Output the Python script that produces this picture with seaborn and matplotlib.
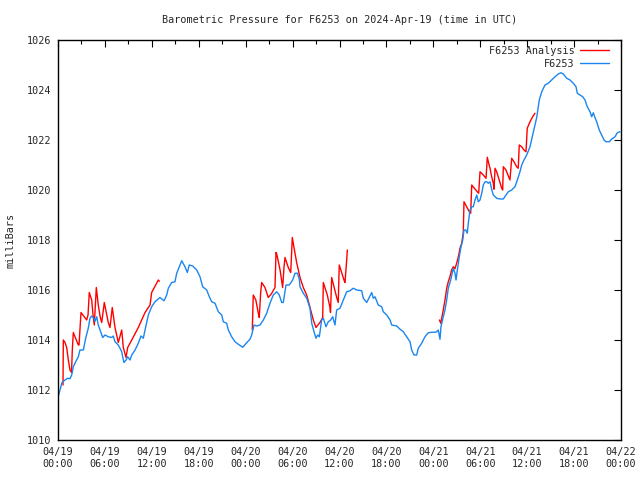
import pandas as pd
import seaborn as sns
import matplotlib.pyplot as plt
import matplotlib.dates as mdates
from matplotlib.lines import Line2D

# station observations (hours after 2024-04-19 00:00 UTC, mbar)
obs_hours = [0.0, 0.26, 0.51, 0.9, 1.24, 1.53, 1.75, 1.96, 2.26, 2.6, 2.81, 3.24, 3.54, 3.87, 4.09,
             4.31, 4.6, 4.73, 4.95, 5.15, 5.46, 5.72, 6.01, 6.43, 6.87, 7.07, 7.29, 7.71, 7.93, 8.15,
             8.27, 8.44, 8.7, 8.91, 9.21, 9.43, 9.85, 10.27, 10.61, 10.91, 11.13, 11.55, 11.98, 12.4,
             13.04, 13.56, 13.9, 14.11, 14.54, 14.96, 15.18, 15.6, 15.82, 16.24, 16.54, 16.79, 17.23,
             17.74, 18.16, 18.5, 19.02, 19.35, 19.66, 20.08, 20.5, 20.94, 21.14, 21.57, 21.78, 22.21,
             22.64, 23.06, 23.62, 24.13, 24.55, 24.77, 25.07, 25.41, 25.83, 26.05, 26.26, 26.69, 27.11,
             27.53, 27.97, 28.3, 28.61, 28.81, 29.16, 29.58, 30.01, 30.31, 30.63, 30.86, 30.95, 31.37,
             31.81, 32.23, 32.45, 32.74, 33.0, 33.21, 33.42, 33.72, 33.93, 34.27, 34.57, 34.87, 35.13,
             35.42, 35.64, 36.06, 36.49, 36.92, 37.34, 37.76, 38.2, 38.84, 39.04, 39.48, 40.12, 40.32,
             40.54, 40.96, 41.4, 41.6, 42.04, 42.46, 42.68, 43.32, 43.74, 44.16, 44.59, 45.02, 45.23,
             45.53, 45.87, 46.08, 46.51, 46.93, 47.36, 47.79, 48.34, 48.63, 48.85, 48.98, 49.27, 49.49,
             49.71, 49.91, 50.22, 50.55, 50.77, 50.9, 51.07, 51.32, 51.5, 51.76, 51.92, 52.14, 52.34,
             52.47, 52.69, 52.91, 53.11, 53.33, 53.55, 53.75, 53.97, 54.19, 54.39, 54.61, 54.83, 55.03,
             55.25, 55.46, 55.67, 56.1, 56.53, 56.95, 57.29, 57.59, 58.02, 58.44, 58.74, 59.08, 59.3,
             59.59, 59.94, 60.36, 60.78, 61.22, 61.55, 61.86, 62.28, 62.7, 63.14, 63.56, 63.98, 64.33,
             64.62, 65.06, 65.48, 65.9, 66.25, 66.41, 66.76, 67.1, 67.4, 67.69, 68.04, 68.25, 68.46,
             68.67, 68.89, 69.22, 69.53, 69.83, 70.08, 70.51, 70.81, 71.23, 71.53, 71.87]
obs_mb = [1011.7, 1012.0, 1012.3, 1012.4, 1012.47, 1012.45, 1012.6, 1012.93, 1013.13, 1013.33, 1013.6,
          1013.6, 1014.07, 1014.47, 1014.87, 1014.96, 1014.87, 1014.75, 1014.93, 1014.6, 1014.33, 1014.1,
          1014.2, 1014.13, 1014.1, 1014.16, 1013.93, 1013.8, 1013.67, 1013.53, 1013.33, 1013.1, 1013.2,
          1013.33, 1013.2, 1013.4, 1013.6, 1013.87, 1014.16, 1014.07, 1014.4, 1015.0, 1015.33, 1015.53,
          1015.7, 1015.57, 1015.8, 1016.07, 1016.3, 1016.33, 1016.67, 1017.0, 1017.17, 1016.93, 1016.7,
          1017.0, 1016.96, 1016.8, 1016.53, 1016.13, 1016.0, 1015.73, 1015.53, 1015.47, 1015.13, 1015.0,
          1014.73, 1014.67, 1014.4, 1014.13, 1013.93, 1013.83, 1013.71, 1013.89, 1014.03, 1014.2, 1014.6,
          1014.56, 1014.6, 1014.7, 1014.8, 1015.07, 1015.47, 1015.8, 1015.93, 1015.8, 1015.5, 1015.5,
          1016.2, 1016.2, 1016.4, 1016.67, 1016.67, 1016.43, 1016.13, 1015.87, 1015.67, 1015.27, 1014.67,
          1014.33, 1014.07, 1014.2, 1014.13, 1014.8, 1014.87, 1014.53, 1014.73, 1014.8, 1014.93, 1014.6,
          1015.2, 1015.27, 1015.6, 1015.93, 1015.97, 1016.07, 1016.0, 1015.97, 1015.67, 1015.5, 1015.9,
          1015.67, 1015.73, 1015.4, 1015.33, 1015.13, 1015.0, 1014.8, 1014.6, 1014.56, 1014.43, 1014.33,
          1014.13, 1013.93, 1013.6, 1013.4, 1013.4, 1013.67, 1013.87, 1014.13, 1014.29, 1014.31, 1014.31,
          1014.4, 1014.03, 1014.53, 1014.93, 1015.2, 1015.6, 1016.07, 1016.4, 1016.87, 1016.67, 1016.4,
          1016.8, 1017.33, 1017.67, 1018.0, 1018.4, 1018.4, 1018.27, 1018.67, 1019.2, 1019.33, 1019.33,
          1019.6, 1019.8, 1019.53, 1019.6, 1019.87, 1020.2, 1020.33, 1020.33, 1020.27, 1020.33, 1020.03,
          1019.8, 1019.67, 1019.64, 1019.64, 1019.8, 1019.93, 1020.0, 1020.13, 1020.4, 1020.73, 1021.0,
          1021.2, 1021.4, 1021.73, 1022.3, 1022.9, 1023.6, 1023.93, 1024.2, 1024.27, 1024.4, 1024.53,
          1024.64, 1024.69, 1024.64, 1024.47, 1024.4, 1024.27, 1024.13, 1023.87, 1023.8, 1023.73, 1023.6,
          1023.33, 1023.13, 1022.93, 1023.09, 1022.9, 1022.73, 1022.4, 1022.2, 1022.0, 1021.93, 1021.93,
          1022.04, 1022.13, 1022.29, 1022.33]

# analysis, three separate runs
ana1_hours = [0.64, 0.68, 0.9, 1.11, 1.32, 1.53, 1.73, 1.83, 1.96, 2.6, 2.69, 2.94, 3.67, 3.84, 4.0,
              4.31, 4.48, 4.64, 4.9, 5.15, 5.41, 5.59, 5.92, 6.43, 6.65, 6.94, 7.29, 7.71, 8.15, 8.35,
              8.7, 8.91, 9.43, 10.27, 11.13, 11.77, 11.98, 12.83, 12.96]
ana1_mb = [1012.2, 1014.0, 1013.9, 1013.7, 1013.2, 1012.8, 1012.7, 1013.6, 1014.3, 1013.8, 1013.8,
           1015.1, 1014.8, 1015.0, 1015.9, 1015.6, 1015.0, 1014.6, 1016.1, 1015.4, 1014.9, 1014.7,
           1015.5, 1014.7, 1014.5, 1015.3, 1014.5, 1013.9, 1014.4, 1013.7, 1013.3, 1013.7, 1014.0,
           1014.5, 1015.1, 1015.4, 1015.9, 1016.4, 1016.35]
ana2_hours = [24.85, 24.97, 25.3, 25.6, 25.74, 25.92, 26.05, 26.47, 26.89, 27.3, 27.75, 27.88, 28.0,
              28.4, 28.73, 28.9, 29.03, 29.45, 29.76, 29.88, 29.96, 30.18, 30.52, 30.95, 31.37, 31.8,
              32.23, 32.65, 32.99, 33.5, 33.85, 33.93, 34.44, 34.78, 34.85, 35.0, 35.64, 35.84, 35.97,
              36.57, 36.7, 36.92, 37.0]
ana2_mb = [1014.4, 1015.8, 1015.6, 1015.1, 1014.9, 1015.9, 1016.3, 1016.1, 1015.7, 1015.85, 1016.1,
           1017.5, 1017.4, 1016.8, 1016.1, 1016.9, 1017.3, 1016.9, 1016.7, 1017.5, 1018.1, 1017.7,
           1017.1, 1016.5, 1016.1, 1015.8, 1015.3, 1014.8, 1014.5, 1014.7, 1014.9, 1016.3, 1015.8,
           1015.3, 1015.1, 1016.5, 1015.7, 1015.5, 1017.0, 1016.4, 1016.3, 1017.2, 1017.6]
ana3_hours = [48.78, 48.95, 49.07, 49.27, 49.49, 49.71, 49.91, 50.12, 50.34, 50.55, 50.77, 50.98,
              51.2, 51.41, 51.63, 51.83, 51.92, 52.26, 52.6, 52.78, 52.91, 53.24, 53.62, 53.8, 53.97,
              54.39, 54.74, 54.9, 55.08, 55.25, 55.46, 55.67, 55.76, 55.89, 56.1, 56.43, 56.74, 56.87,
              56.95, 57.29, 57.59, 57.8, 58.02, 58.31, 58.66, 58.86, 58.99, 59.3, 59.59, 59.85, 60.01,
              60.36, 60.7, 61.0]
ana3_mb = [1014.8, 1014.67, 1014.87, 1015.2, 1015.6, 1016.07, 1016.33, 1016.53, 1016.8, 1016.93,
           1016.85, 1017.07, 1017.33, 1017.67, 1017.87, 1018.3, 1019.53, 1019.33, 1019.13, 1019.07,
           1020.2, 1020.07, 1019.93, 1019.87, 1020.73, 1020.6, 1020.47, 1021.31, 1021.07, 1020.87,
           1020.53, 1020.27, 1020.03, 1020.87, 1020.73, 1020.4, 1020.07, 1020.0, 1020.93, 1020.8,
           1020.56, 1020.4, 1021.27, 1021.13, 1020.93, 1020.87, 1021.8, 1021.73, 1021.6, 1021.53,
           1022.47, 1022.73, 1022.93, 1023.07]

start = pd.Timestamp("2024-04-19 00:00")
obs = pd.DataFrame({"time": start + pd.to_timedelta(obs_hours, unit="h"), "mb": obs_mb})
parts = []
for i, (h, v) in enumerate([(ana1_hours, ana1_mb), (ana2_hours, ana2_mb), (ana3_hours, ana3_mb)]):
    parts.append(pd.DataFrame({"time": start + pd.to_timedelta(h, unit="h"), "mb": v, "run": i}))
ana = pd.concat(parts)

red = "#ff0000"
blue = "#1a86f0"

sns.set_style("white")
plt.rcParams["font.family"] = ["DejaVu Sans Mono"]
fig = plt.figure(figsize=(6.4, 4.8), dpi=100)
ax = fig.add_axes([58 / 640, 40 / 480, 563 / 640, 400 / 480])

sns.lineplot(data=ana, x="time", y="mb", units="run", estimator=None, color=red, lw=1, ax=ax)
sns.lineplot(data=obs, x="time", y="mb", color=blue, lw=1, ax=ax)

ax.set_xlim(start, start + pd.Timedelta(hours=72))
ax.set_ylim(1010, 1026)
ax.set_yticks(range(1010, 1027, 2))
ax.xaxis.set_major_locator(mdates.HourLocator(byhour=[0, 6, 12, 18]))
ax.xaxis.set_minor_locator(mdates.HourLocator(byhour=[3, 9, 15, 21]))
ax.xaxis.set_major_formatter(mdates.DateFormatter("%m/%d\n%H:%M"))
ax.tick_params(which="both", direction="in", top=True, right=True, labelsize=7.3, color="black")
ax.tick_params(which="major", length=5, width=0.8, pad=5)
ax.tick_params(which="minor", length=3, width=0.8)
for s in ax.spines.values():
    s.set_color("black")
    s.set_linewidth(1)

ax.set_xlabel("")
ax.set_ylabel("milliBars", fontsize=7.3, labelpad=8)
ax.set_title("Barometric Pressure for F6253 on 2024-Apr-19 (time in UTC)", fontsize=7.3, pad=12)

handles = [Line2D([], [], color=red, lw=1), Line2D([], [], color=blue, lw=1)]
ax.legend(handles, ["F6253 Analysis", "F6253"], loc="upper right", frameon=False, markerfirst=False,
          fontsize=7.3, handlelength=2.9, handletextpad=0.5, labelspacing=0.25,
          borderaxespad=0, borderpad=0, bbox_to_anchor=(1 - 12 / 563, 1 - 6 / 400))

fig.savefig("out.png", dpi=100)
